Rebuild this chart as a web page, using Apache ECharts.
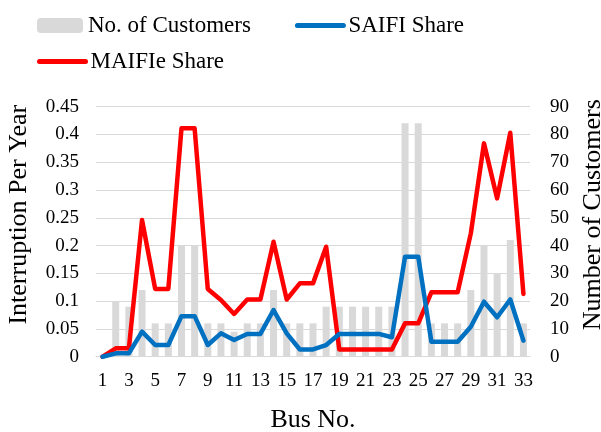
<!DOCTYPE html>
<html>
<head>
<meta charset="utf-8">
<script src="https://cdn.jsdelivr.net/npm/echarts@6/dist/echarts.min.js"></script>
<style>html,body{margin:0;padding:0;background:#fff}#c{width:601px;height:432px}</style>
</head>
<body>
<div id="c"></div>
<script>
const buses = ['1','2','3','4','5','6','7','8','9','10','11','12','13','14','15','16','17','18','19','20','21','22','23','24','25','26','27','28','29','30','31','32','33'];
const customers = [0,20,18,24,12,12,40,40,12,12,9,12,12,24,12,12,12,18,18,18,18,18,18,84,84,12,12,12,24,40,30,42,12];
const saifiShare = [0,0.006,0.006,0.045,0.021,0.021,0.073,0.073,0.021,0.042,0.030,0.041,0.041,0.084,0.042,0.013,0.013,0.021,0.041,0.041,0.041,0.041,0.035,0.18,0.18,0.027,0.027,0.027,0.054,0.099,0.071,0.103,0.029];
const maifieShare = [0,0.015,0.015,0.246,0.122,0.122,0.411,0.411,0.122,0.102,0.077,0.103,0.103,0.207,0.103,0.132,0.132,0.198,0.013,0.013,0.013,0.013,0.013,0.06,0.06,0.116,0.116,0.116,0.222,0.384,0.285,0.403,0.113];

const FONT = '"Liberation Serif","Times New Roman",serif';
const chart = echarts.init(document.getElementById('c'), null, {renderer: 'canvas'});
const legendText = {fontFamily: FONT, fontSize: 23, color: '#000'};
const lineLegendItem = (name, color) => ({
  name: name,
  itemStyle: {opacity: 0},
  lineStyle: {color: color, width: 5, cap: 'round', opacity: 1}
});
chart.setOption({
  animation: false,
  textStyle: {fontFamily: FONT},
  legend: [
    {data: ['No. of Customers', lineLegendItem('SAIFI Share', '#0070c0')], left: 32, top: 9,
     itemWidth: 46, itemHeight: 15, itemGap: 44, textStyle: legendText},
    {data: [lineLegendItem('MAIFIe Share', '#ff0000')], left: 32, top: 45,
     itemWidth: 46, itemHeight: 15, textStyle: legendText}
  ],
  grid: {left: 96, right: 71, top: 106.7, bottom: 75.3, containLabel: false, outerBoundsMode: 'none'},
  xAxis: {
    type: 'category', data: buses, boundaryGap: true,
    axisLine: {lineStyle: {color: '#d9d9d9', width: 1}},
    axisTick: {show: false},
    axisLabel: {interval: 1, fontSize: 19, color: '#000', fontFamily: FONT, margin: 15},
    name: 'Bus No.', nameLocation: 'middle', nameGap: 50,
    nameTextStyle: {fontSize: 26, color: '#000', fontFamily: FONT}
  },
  yAxis: [
    {
      type: 'value', min: 0, max: 0.45, interval: 0.05,
      axisLine: {show: false}, axisTick: {show: false},
      splitLine: {lineStyle: {color: '#d9d9d9', width: 1}},
      axisLabel: {fontSize: 19, color: '#000', fontFamily: FONT, margin: 17},
      name: 'Interruption Per Year', nameLocation: 'middle', nameGap: 64,
      nameTextStyle: {fontSize: 26, color: '#000', fontFamily: FONT, padding: [0, 0, 0, 34]}
    },
    {
      type: 'value', min: 0, max: 90, interval: 10, position: 'right',
      axisLine: {show: false}, axisTick: {show: false}, splitLine: {show: false},
      axisLabel: {fontSize: 19, color: '#000', fontFamily: FONT, margin: 20},
      name: 'Number of Customers', nameLocation: 'middle', nameGap: 44,
      nameTextStyle: {fontSize: 26, color: '#000', fontFamily: FONT, padding: [0, 0, 0, 34]}
    }
  ],
  series: [
    {name: 'No. of Customers', type: 'bar', yAxisIndex: 1, data: customers, barWidth: 7,
     itemStyle: {color: '#d9d9d9'}, z: 1},
    {name: 'SAIFI Share', type: 'line', yAxisIndex: 0, data: saifiShare, symbol: 'none',
     lineStyle: {color: '#0070c0', width: 4.5, cap: 'round', join: 'round'}, itemStyle: {color: '#0070c0'}, z: 3},
    {name: 'MAIFIe Share', type: 'line', yAxisIndex: 0, data: maifieShare, symbol: 'none',
     lineStyle: {color: '#ff0000', width: 4.5, cap: 'round', join: 'round'}, itemStyle: {color: '#ff0000'}, z: 2}
  ]
});
</script>
</body>
</html>
